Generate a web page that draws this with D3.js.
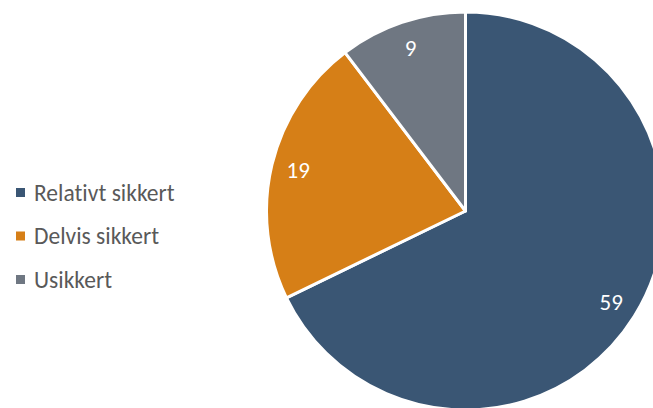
<!DOCTYPE html>
<html>
<head>
<meta charset="utf-8">
<script src="https://cdn.jsdelivr.net/npm/d3@7"></script>
<style>
  html, body { margin: 0; padding: 0; background: #fff; }
  svg { display: block; }
  text { font-variant-ligatures: none; font-feature-settings: "liga" 0; }
</style>
</head>
<body>
<svg id="chart" width="653" height="408"></svg>
<script>
// Share of answers by certainty
const categories = ["Relativt sikkert", "Delvis sikkert", "Usikkert"];
const values = [59, 19, 9];
const colors = ["#3A5674", "#D67F17", "#6F7782"];

const svg = d3.select("#chart");
const cx = 465.5, cy = 211, radius = 199, labelRadius = 172;
const font = "Carlito, Calibri, 'Open Sans', sans-serif";

const pie = d3.pie().sort(null).value(d => d.value);
const arcs = pie(categories.map((c, i) => ({ name: c, value: values[i], color: colors[i] })));
const arc = d3.arc().innerRadius(0).outerRadius(radius);
const labelArc = d3.arc().innerRadius(labelRadius).outerRadius(labelRadius);

const g = svg.append("g").attr("transform", `translate(${cx},${cy})`);

g.selectAll("path.slice")
  .data(arcs)
  .join("path")
  .attr("class", "slice")
  .attr("d", arc)
  .attr("fill", d => d.data.color)
  .attr("stroke", "#fff")
  .attr("stroke-width", 3)
  .attr("stroke-linejoin", "round");

// Value labels, baseline placed so the digits sit centred on the label point
g.selectAll("text.value")
  .data(arcs)
  .join("text")
  .attr("class", "value")
  .attr("transform", d => `translate(${labelArc.centroid(d)})`)
  .attr("y", 7.5)
  .attr("text-anchor", "middle")
  .attr("font-family", font)
  .attr("font-size", 23)
  .attr("fill", "#fff")
  .text(d => d.data.value);

// Legend
const legend = svg.append("g").attr("transform", "translate(16,200.5)");
const item = legend.selectAll("g.item")
  .data(categories)
  .join("g")
  .attr("class", "item")
  .attr("transform", (d, i) => `translate(0,${i * 43.5})`);

item.append("rect")
  .attr("x", 0).attr("y", -12.5)
  .attr("width", 9).attr("height", 9)
  .attr("fill", (d, i) => colors[i]);

item.append("text")
  .attr("x", 18)
  .attr("y", 0)
  .attr("font-family", font)
  .attr("font-size", 23.5)
  .attr("fill", "#595959")
  .text(d => d);
</script>
</body>
</html>
